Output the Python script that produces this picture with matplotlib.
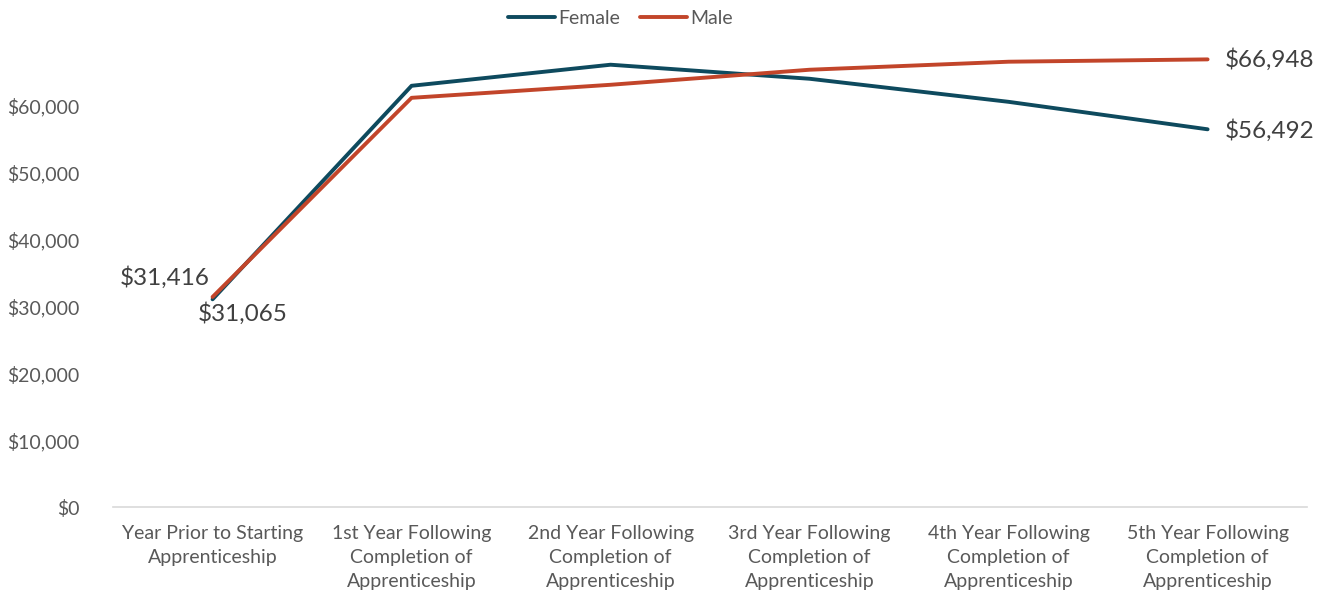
import matplotlib
matplotlib.use("Agg")
import matplotlib.pyplot as plt
from matplotlib.ticker import FuncFormatter

categories = ["Year Prior to Starting\nApprenticeship",
              "1st Year Following\nCompletion of\nApprenticeship",
              "2nd Year Following\nCompletion of\nApprenticeship",
              "3rd Year Following\nCompletion of\nApprenticeship",
              "4th Year Following\nCompletion of\nApprenticeship",
              "5th Year Following\nCompletion of\nApprenticeship"]
female = [31065, 63000, 66150, 64050, 60600, 56492]
male = [31416, 61200, 63150, 65400, 66600, 66948]
yticks = [0, 10000, 20000, 30000, 40000, 50000, 60000]

female_color = "#0E4A5E"
male_color = "#C2452A"
text_color = "#595959"
plt.rcParams['font.family'] = ['Lato', 'DejaVu Sans']

fig = plt.figure(figsize=(13.27, 5.96), dpi=100)
ax = fig.add_axes([0.0852, 0.1493, 0.8998, 0.7853])
x = list(range(len(categories)))
ax.plot(x, female, color=female_color, lw=2.8, label="Female", solid_capstyle="round")
ax.plot(x, male, color=male_color, lw=2.8, label="Male", solid_capstyle="round")

ax.set_xlim(-0.5, 5.5)
ax.set_ylim(0, 70000)
ax.set_yticks(yticks)
ax.yaxis.set_major_formatter(FuncFormatter(lambda v, p: f"${v:,.0f}"))
ax.set_xticks(x)
ax.set_xticklabels(categories, linespacing=1.5)
ax.tick_params(axis='both', length=0, labelsize=14, colors=text_color, pad=13)
ax.tick_params(axis='y', pad=24)
for s in ["top", "right", "left"]:
    ax.spines[s].set_visible(False)
ax.spines["bottom"].set_color("#D9D9D9")
ax.spines["bottom"].set_linewidth(1.2)

lab_kw = dict(fontsize=17.5, color="#404040")
ax.annotate(f"${male[0]:,}", (x[0], male[0]), xytext=(-2, 14), textcoords="offset points",
            ha="right", va="center", **lab_kw)
ax.annotate(f"${female[0]:,}", (x[0], female[0]), xytext=(-11, -10), textcoords="offset points",
            ha="left", va="center", **lab_kw)
ax.annotate(f"${male[-1]:,}", (x[-1], male[-1]), xytext=(12, 0), textcoords="offset points",
            ha="left", va="center", **lab_kw)
ax.annotate(f"${female[-1]:,}", (x[-1], female[-1]), xytext=(12, -1), textcoords="offset points",
            ha="left", va="center", **lab_kw)

leg = ax.legend(loc="upper center", bbox_to_anchor=(0.425, 1.10), ncol=2, frameon=False,
                fontsize=14, handlelength=2.4, handletextpad=0.2, columnspacing=1.0)
for t in leg.get_texts():
    t.set_color(text_color)

fig.savefig("out.png", dpi=100)
